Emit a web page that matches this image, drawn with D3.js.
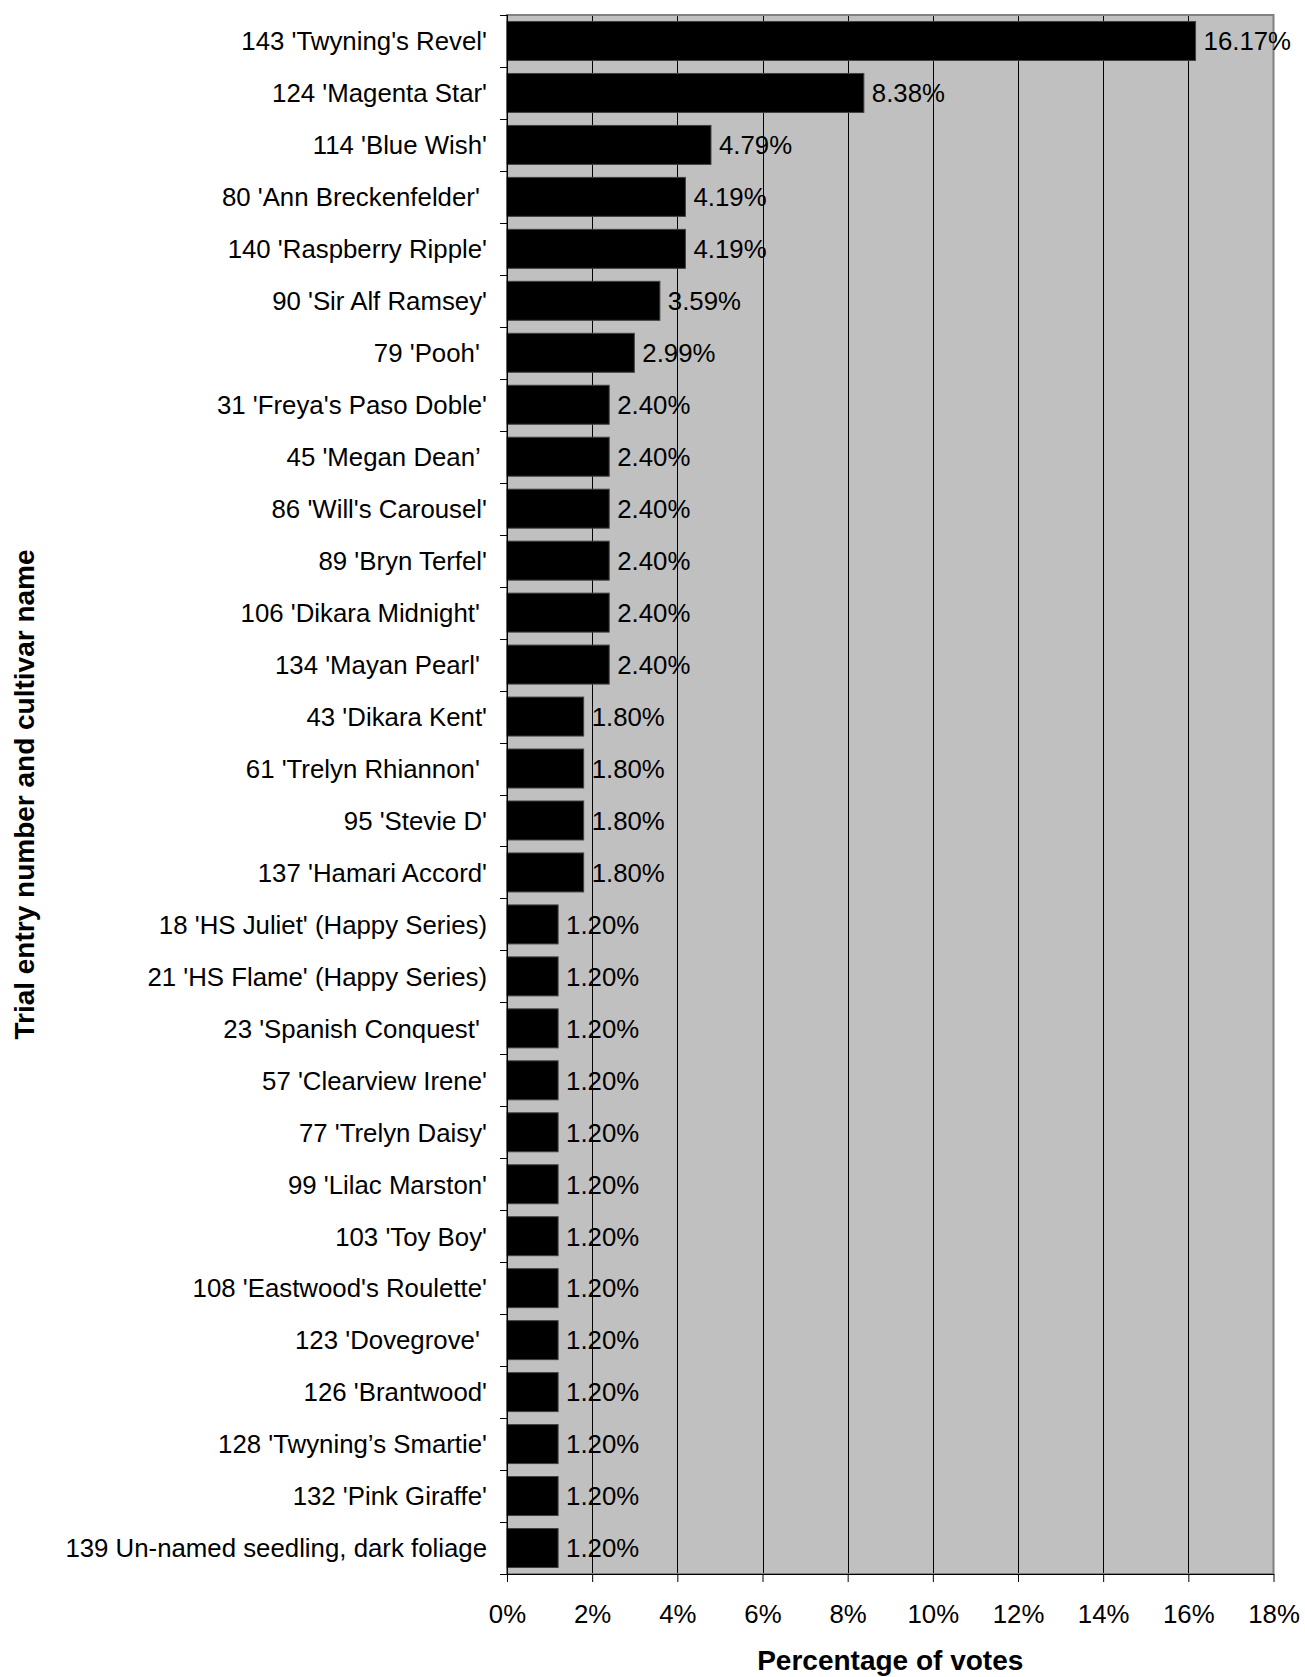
<!DOCTYPE html>
<html>
<head>
<meta charset="utf-8">
<script src="https://cdn.jsdelivr.net/npm/d3@7"></script>
<style>
  html, body { margin: 0; padding: 0; background: #fff; }
  svg { display: block; font-family: "Liberation Sans", Arial, sans-serif; }
  text { white-space: pre; }
</style>
</head>
<body>
<div id="chart"></div>
<script>
const categories = [
  "143 'Twyning's Revel'",
  "124 'Magenta Star'",
  "114 'Blue Wish'",
  "80 'Ann Breckenfelder' ",
  "140 'Raspberry Ripple'",
  "90 'Sir Alf Ramsey'",
  "79 'Pooh' ",
  "31 'Freya's Paso Doble'",
  "45 'Megan Dean\u2019 ",
  "86 'Will's Carousel'",
  "89 'Bryn Terfel'",
  "106 'Dikara Midnight' ",
  "134 'Mayan Pearl' ",
  "43 'Dikara Kent'",
  "61 'Trelyn Rhiannon' ",
  "95 'Stevie D'",
  "137 'Hamari Accord'",
  "18 'HS Juliet' (Happy Series)",
  "21 'HS Flame' (Happy Series)",
  "23 'Spanish Conquest' ",
  "57 'Clearview Irene'",
  "77 'Trelyn Daisy'",
  "99 'Lilac Marston'",
  "103 'Toy Boy'",
  "108 'Eastwood's Roulette'",
  "123 'Dovegrove' ",
  "126 'Brantwood'",
  "128 'Twyning\u2019s Smartie'",
  "132 'Pink Giraffe'",
  "139 Un-named seedling, dark foliage"
];
const votesPct = [
  16.17, 8.38, 4.79, 4.19, 4.19, 3.59, 2.99,
  2.40, 2.40, 2.40, 2.40, 2.40, 2.40,
  1.80, 1.80, 1.80, 1.80,
  1.20, 1.20, 1.20, 1.20, 1.20, 1.20, 1.20, 1.20, 1.20, 1.20, 1.20, 1.20, 1.20
];
const xTicks = [0, 2, 4, 6, 8, 10, 12, 14, 16, 18];
const xTitle = "Percentage of votes";
const yTitle = "Trial entry number and cultivar name";

const W = 1305, H = 1677;
const m = { left: 507, right: 1273.5, top: 15, bottom: 1574 };

const svg = d3.select("#chart").append("svg").attr("width", W).attr("height", H);

const x = d3.scaleLinear().domain([0, 18]).range([m.left, m.right]);
const y = d3.scaleBand().domain(categories).range([m.top, m.bottom]).paddingInner(0.25).paddingOuter(0.125);

// plot background
svg.append("rect")
  .attr("x", m.left).attr("y", m.top)
  .attr("width", m.right - m.left).attr("height", m.bottom - m.top)
  .attr("fill", "#c0c0c0");

// gridlines
svg.append("g").selectAll("line")
  .data(xTicks.filter(t => t > 0 && t < 18))
  .join("line")
  .attr("x1", d => Math.round(x(d)) + 0.5).attr("x2", d => Math.round(x(d)) + 0.5)
  .attr("y1", m.top).attr("y2", m.bottom)
  .attr("stroke", "#000").attr("stroke-width", 1);

// plot border (gray)
svg.append("rect")
  .attr("x", m.left).attr("y", m.top)
  .attr("width", m.right - m.left).attr("height", m.bottom - m.top)
  .attr("fill", "none").attr("stroke", "#808080").attr("stroke-width", 2);

// bars
svg.append("g").selectAll("rect")
  .data(votesPct)
  .join("rect")
  .attr("x", x(0))
  .attr("y", (d, i) => y(categories[i]))
  .attr("width", d => x(d) - x(0))
  .attr("height", y.bandwidth())
  .attr("fill", "#000")
  .attr("stroke", "#404040")
  .attr("stroke-width", 1);

// value labels
svg.append("g").selectAll("text")
  .data(votesPct)
  .join("text")
  .attr("x", d => x(d) + 8)
  .attr("y", (d, i) => y(categories[i]) + y.bandwidth() / 2)
  .attr("dy", "0.36em")
  .attr("font-size", 25.8)
  .attr("fill", "#000")
  .text(d => d.toFixed(2) + "%");

// y axis
const yAxisG = svg.append("g");
yAxisG.append("line")
  .attr("x1", m.left + 0.5).attr("x2", m.left + 0.5)
  .attr("y1", m.top).attr("y2", m.bottom + 8)
  .attr("stroke", "#000");
const boundaries = d3.range(categories.length + 1).map(i => m.top + i * (m.bottom - m.top) / categories.length);
yAxisG.selectAll("line.tick").data(boundaries).join("line")
  .attr("class", "tick")
  .attr("x1", m.left - 7).attr("x2", m.left)
  .attr("y1", d => Math.round(d) + 0.5).attr("y2", d => Math.round(d) + 0.5)
  .attr("stroke", "#000");
yAxisG.selectAll("text").data(categories).join("text")
  .attr("x", m.left - 20)
  .attr("y", d => y(d) + y.bandwidth() / 2)
  .attr("dy", "0.36em")
  .attr("text-anchor", "end")
  .attr("font-size", 25.8)
  .attr("fill", "#000")
  .text(d => d);

// x axis
const xAxis = d3.axisBottom(x).tickValues(xTicks).tickFormat(d => d + "%").tickSize(8).tickSizeOuter(0);
const xg = svg.append("g").attr("transform", `translate(0,${m.bottom})`).call(xAxis);
xg.select(".domain").attr("stroke", "#000");
xg.selectAll(".tick line").attr("stroke", "#000");
xg.selectAll(".tick text")
  .attr("y", 31).attr("dy", "0.71em")
  .attr("font-size", 25.8)
  .attr("font-family", "Liberation Sans, Arial, sans-serif")
  .attr("fill", "#000");

// titles
svg.append("text")
  .attr("x", (m.left + m.right) / 2)
  .attr("y", 1670)
  .attr("text-anchor", "middle")
  .attr("font-size", 28)
  .attr("font-weight", "bold")
  .text(xTitle);

svg.append("text")
  .attr("transform", `translate(34,${(m.top + m.bottom) / 2}) rotate(-90)`)
  .attr("text-anchor", "middle")
  .attr("font-size", 28)
  .attr("font-weight", "bold")
  .text(yTitle);
</script>
</body>
</html>
